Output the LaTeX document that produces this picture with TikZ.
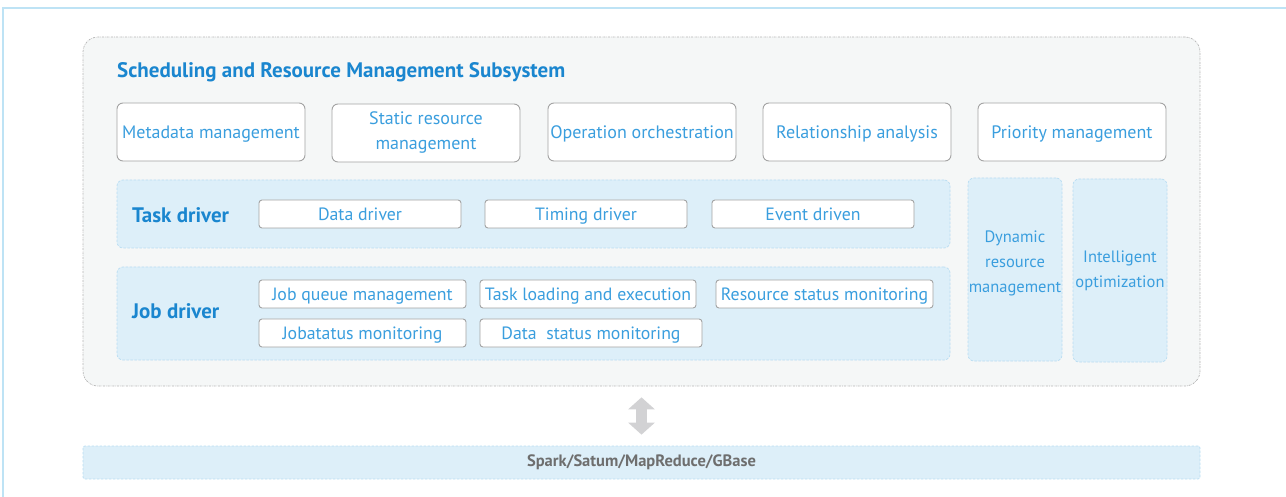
\documentclass[tikz,border=0pt]{standalone}
\usepackage{fontspec}
\setmainfont{PT Sans}
\usetikzlibrary{arrows.meta}
\definecolor{titleblue}{HTML}{1A86CF}
\definecolor{textblue}{HTML}{3A9EDE}
\definecolor{boxgray}{HTML}{A3A3A3}
\definecolor{panelfill}{HTML}{DDEFF9}
\definecolor{paneldraw}{HTML}{B9DDF2}
\definecolor{contfill}{HTML}{F5F7F7}
\definecolor{contdraw}{HTML}{B5B5B5}
\definecolor{arrowgray}{HTML}{D2D2D4}
\definecolor{bartext}{HTML}{6E6E6E}
\definecolor{framecol}{HTML}{BEE3F5}
\tikzset{
  topbox/.style={draw=boxgray, line width=0.9pt, fill=white, rounded corners=6pt,
    minimum width=188pt, minimum height=58pt, inner sep=0pt, text=textblue,
    font=\fontsize{18}{25}\selectfont, align=center},
  smallbox/.style={draw=boxgray, line width=0.9pt, fill=white, rounded corners=3pt,
    minimum height=28pt, inner sep=0pt, text=textblue, text depth=0pt,
    font=\fontsize{17.8}{22}\selectfont},
  panel/.style={draw=paneldraw, dashed, dash pattern=on 2.5pt off 1.5pt, fill=panelfill,
    rounded corners=6pt, line width=0.7pt},
  sidepanel/.style={panel, inner sep=0pt, text=textblue, align=center,
    font=\fontsize{16.5}{25}\selectfont},
  paneltitle/.style={text=titleblue, font=\bfseries\fontsize{21}{24}\selectfont, anchor=west, inner sep=0pt},
}
\begin{document}
\begin{tikzpicture}[x=1pt,y=-1pt]
\useasboundingbox (0,0) rectangle (1286,497);
% outer frame
\draw[framecol, line width=1.2pt] (3,520) -- (3,8) -- (1300,8);
% container
\node[draw=contdraw, dash pattern=on 2pt off 1pt on 0.6pt off 1pt, fill=contfill, rounded corners=15pt,
  line width=0.7pt, minimum width=1117pt, minimum height=349pt, inner sep=0pt]
  (sub) at (641.5,211.5) {};
\node[text=titleblue, font=\bfseries\fontsize{21}{24}\selectfont, anchor=west, inner sep=0pt]
  (title) at (117,72.5) {Scheduling and Resource Management Subsystem};
% top row
\node[topbox, text depth=0pt] (meta) at (211,132) {Metadata management};
\node[topbox] (static) at (426,133) {Static resource\\management};
\node[topbox, text depth=0pt] (orch) at (642,132) {Operation orchestration};
\node[topbox, text depth=0pt] (rel) at (857,132) {Relationship analysis};
\node[topbox, text depth=0pt] (prio) at (1072,132) {Priority management};
% task driver panel
\node[panel, minimum width=833pt, minimum height=68pt, inner sep=0pt] (taskp) at (533.5,214) {};
\node[paneltitle] (taskl) at (132,215) {Task driver};
\node[smallbox, minimum width=202pt] (dd) at (360,214) {Data driver};
\node[smallbox, minimum width=202pt] (td) at (586,214) {Timing driver};
\node[smallbox, minimum width=202pt] (ed) at (813,214) {Event driven};
% job driver panel
\node[panel, minimum width=833pt, minimum height=93pt, inner sep=0pt] (jobp) at (533.5,313.5) {};
\node[paneltitle] (jobl) at (132,311) {Job driver};
\node[smallbox, minimum width=207pt] (jq) at (362.5,294) {Job queue management};
\node[smallbox, minimum width=216pt] (tl) at (588,294) {Task loading and execution};
\node[smallbox, minimum width=217pt] (rs) at (824.5,294) {Resource status monitoring};
\node[smallbox, minimum width=207pt] (js) at (362.5,333) {Jobatatus monitoring};
\node[smallbox, minimum width=222pt] (ds) at (591,333) {Data\ \ status monitoring};
% side panels
\node[sidepanel, minimum width=94pt, minimum height=183pt] (dyn) at (1015,269.5) {};
\node[text=textblue, align=center, inner sep=0pt, font=\fontsize{16.5}{25}\selectfont] (dynt) at (1015,263) {Dynamic\\resource\\management};
\node[sidepanel, minimum width=94pt, minimum height=183pt] (intel) at (1120,270.5) {Intelligent\\optimization};
% bottom bar
\node[panel, rounded corners=2pt, minimum width=1117pt, minimum height=33pt, inner sep=0pt,
  text=bartext, font=\bfseries\fontsize{16.5}{18}\selectfont] (bar) at (641.5,462.5) {Spark/Satum/MapReduce/GBase};
% arrow
\draw[arrowgray, line width=11pt, shorten <=11pt, shorten >=11pt,
  {Triangle[width=26pt,length=12pt]}-{Triangle[width=26pt,length=12pt]}] (sub.south) -- (bar.north);
\end{tikzpicture}
\end{document}
